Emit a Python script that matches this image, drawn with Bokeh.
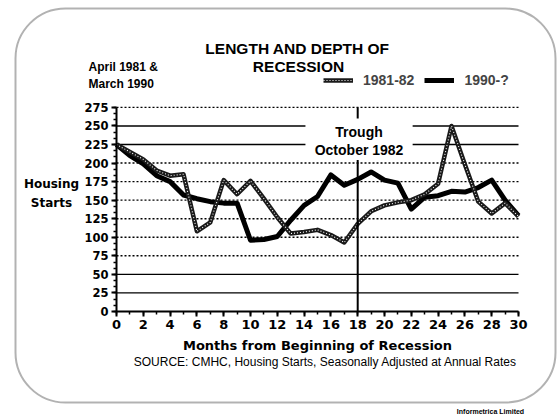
from bokeh.plotting import figure
from bokeh.models import (Label, BoxAnnotation, SingleIntervalTicker, Legend,
                          LegendItem, Range1d)
from bokeh.embed import file_html
from bokeh.resources import INLINE

# ---- data ----
months = list(range(31))
starts_1981 = [225, 215, 205, 190, 183, 185, 108, 120, 177, 158, 176, 152, 127, 105,
               107, 110, 103, 93, 118, 135, 143, 147, 150, 158, 172, 250, 198, 148,
               132, 146, 128]
starts_1990 = [225, 210, 199, 183, 175, 157, 152, 148, 146, 146, 96, 97, 101, 123,
               143, 155, 184, 170, 178, 188, 177, 173, 138, 154, 156, 162, 161, 167,
               177, 150, 129]
dotted_levels = [75, 100, 125, 150, 175, 200, 275]
solid_levels = [25, 50, 225, 250]
y_max = 275
trough_month = 18
series_labels = ["1981-82", "1990-?"]

x0, x1 = months[0], months[-1]

# frame covers the whole canvas; axes are pinned with fixed_location
p = figure(width=558, height=419, output_backend="svg", toolbar_location=None,
           title=None,
           x_range=Range1d(-8.657, 32.985), y_range=Range1d(-145.6, 419.1),
           min_border_left=0, min_border_right=0,
           min_border_top=0, min_border_bottom=0)
p.outline_line_color = None
p.background_fill_color = "white"
p.border_fill_color = "white"
p.xgrid.visible = False
p.ygrid.visible = False

# grid lines limited to the axis span
p.segment(x0=[x0] * len(dotted_levels), y0=dotted_levels,
          x1=[x1] * len(dotted_levels), y1=dotted_levels,
          line_color="black", line_width=1.4, line_dash="2 2")
p.segment(x0=[x0] * len(solid_levels), y0=solid_levels,
          x1=[x1] * len(solid_levels), y1=solid_levels,
          line_color="black", line_width=1.4)

# axes
p.xaxis.ticker = SingleIntervalTicker(interval=2, num_minor_ticks=2)
p.yaxis.ticker = SingleIntervalTicker(interval=25, num_minor_ticks=3)
p.xaxis.fixed_location = 0
p.yaxis.fixed_location = 0
p.xaxis.bounds = (x0, x1)
p.yaxis.bounds = (0, y_max)
for ax in (p.xaxis, p.yaxis):
    ax.axis_line_width = 2
    ax.axis_line_color = "black"
    ax.major_tick_line_width = 2
    ax.minor_tick_line_width = 1.5
    ax.major_tick_in = 0
    ax.major_tick_out = 5
    ax.minor_tick_in = 0
    ax.minor_tick_out = 3
    ax.major_label_text_font = "DejaVu Sans"
    ax.major_label_text_font_style = "bold"
    ax.major_label_text_color = "black"
p.yaxis.major_label_text_font_size = "11.5px"
p.yaxis.major_label_standoff = 3
p.xaxis.major_label_text_font_size = "13px"
p.xaxis.major_label_standoff = 4

# data lines
r90 = p.line(months, starts_1990, line_width=5, color="black", line_join="round")
r81a = p.line(months, starts_1981, line_width=4.5, color="#1a1a1a", line_join="round")
r81b = p.line(months, starts_1981, line_width=1.1, color="white", line_dash="1 2")

# trough marker
p.segment(x0=[trough_month], y0=[0], x1=[trough_month], y1=[y_max],
          line_color="black", line_width=2)
p.add_layout(BoxAnnotation(left=14.1, right=22.1, bottom=204, top=260,
                           fill_color="white", fill_alpha=1, line_alpha=0))
bold = dict(text_font="Liberation Sans", text_font_style="bold",
            text_color="black")
p.add_layout(Label(x=18.1, y=242, text="Trough", text_align="center",
                   text_baseline="middle", text_font_size="14px", **bold))
p.add_layout(Label(x=18.1, y=217, text="October 1982", text_align="center",
                   text_baseline="middle", text_font_size="14px", **bold))

# legend
legend = Legend(items=[LegendItem(label=series_labels[0], renderers=[r81a, r81b]),
                       LegendItem(label=series_labels[1], renderers=[r90])],
                orientation="horizontal", location=(323, 331),
                glyph_width=30, glyph_height=14, label_height=14,
                label_standoff=10, spacing=10, padding=0, margin=0,
                border_line_color=None, background_fill_alpha=0,
                label_text_font="Liberation Sans", label_text_font_style="bold",
                label_text_font_size="14px")
p.add_layout(legend)

# other texts (screen units: from canvas left, from canvas bottom)
def slabel(x, y, text, size, font="Liberation Sans", style="bold", align="center"):
    p.add_layout(Label(x=x, y=y, x_units="screen", y_units="screen", text=text,
                       text_align=align, text_baseline="middle",
                       text_font=font, text_font_style=style,
                       text_font_size=size, text_color="black"))

slabel(297, 371, "LENGTH AND DEPTH OF", "15.5px")
slabel(298, 353, "RECESSION", "15.5px")
slabel(88, 353, "April 1981 &", "12px", align="left")
slabel(88, 336, "March 1990", "12px", align="left")
slabel(51, 236, "Housing", "12px", font="DejaVu Sans")
slabel(51, 217, "Starts", "12px", font="DejaVu Sans")
slabel(317, 74, "Months from Beginning of Recession", "13px", font="DejaVu Sans")
slabel(325, 58, "SOURCE: CMHC, Housing Starts, Seasonally Adjusted at Annual Rates",
       "12px", style="normal")
slabel(490, 8, "Informetrica Limited", "7px")

# rounded outer frame
p.add_layout(BoxAnnotation(left=15, right=555, bottom=17, top=411,
                           left_units="screen", right_units="screen",
                           top_units="screen", bottom_units="screen",
                           fill_alpha=0, line_color="black", line_width=2,
                           border_radius=50))

open("out.html", "w").write(file_html(p, INLINE))
